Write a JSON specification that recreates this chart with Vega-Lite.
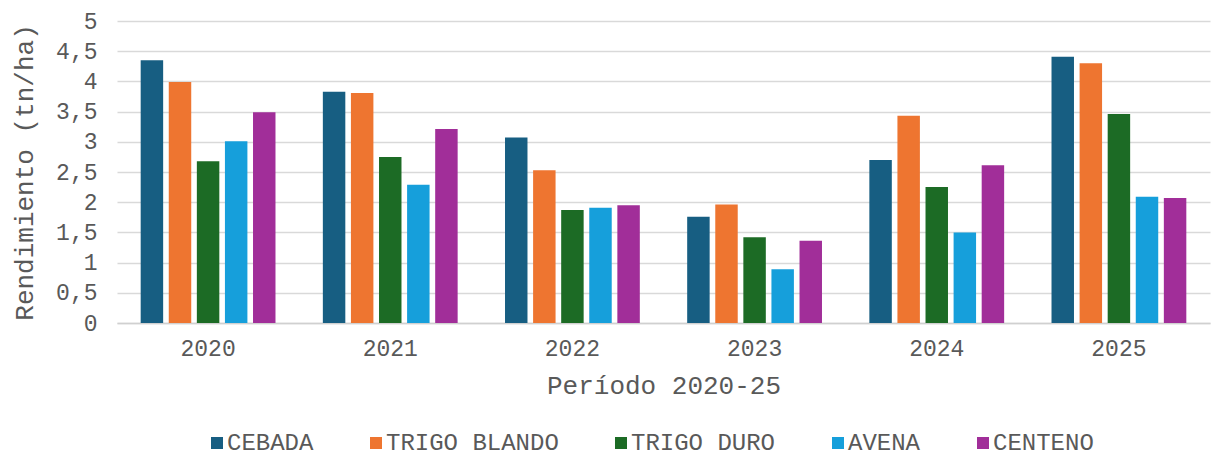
{
  "$schema": "https://vega.github.io/schema/vega-lite/v6.json",
  "width": 1093,
  "height": 302,
  "autosize": {"type": "none"},
  "padding": {"left": 117, "top": 21, "right": 3, "bottom": 133},
  "background": "white",
  "config": {
    "font": "Liberation Mono",
    "view": {"stroke": null},
    "axis": {"labelColor": "#595959", "titleColor": "#595959", "titleFontWeight": "normal"}
  },
  "data": {
    "values": [
      {"anio": "2020", "cultivo": "CEBADA", "valor": 4.35},
      {"anio": "2020", "cultivo": "TRIGO BLANDO", "valor": 3.99},
      {"anio": "2020", "cultivo": "TRIGO DURO", "valor": 2.68},
      {"anio": "2020", "cultivo": "AVENA", "valor": 3.01},
      {"anio": "2020", "cultivo": "CENTENO", "valor": 3.49},
      {"anio": "2021", "cultivo": "CEBADA", "valor": 3.83},
      {"anio": "2021", "cultivo": "TRIGO BLANDO", "valor": 3.81},
      {"anio": "2021", "cultivo": "TRIGO DURO", "valor": 2.75},
      {"anio": "2021", "cultivo": "AVENA", "valor": 2.29},
      {"anio": "2021", "cultivo": "CENTENO", "valor": 3.21},
      {"anio": "2022", "cultivo": "CEBADA", "valor": 3.07},
      {"anio": "2022", "cultivo": "TRIGO BLANDO", "valor": 2.53},
      {"anio": "2022", "cultivo": "TRIGO DURO", "valor": 1.87},
      {"anio": "2022", "cultivo": "AVENA", "valor": 1.91},
      {"anio": "2022", "cultivo": "CENTENO", "valor": 1.95},
      {"anio": "2023", "cultivo": "CEBADA", "valor": 1.76},
      {"anio": "2023", "cultivo": "TRIGO BLANDO", "valor": 1.96},
      {"anio": "2023", "cultivo": "TRIGO DURO", "valor": 1.42},
      {"anio": "2023", "cultivo": "AVENA", "valor": 0.89},
      {"anio": "2023", "cultivo": "CENTENO", "valor": 1.36},
      {"anio": "2024", "cultivo": "CEBADA", "valor": 2.70},
      {"anio": "2024", "cultivo": "TRIGO BLANDO", "valor": 3.43},
      {"anio": "2024", "cultivo": "TRIGO DURO", "valor": 2.25},
      {"anio": "2024", "cultivo": "AVENA", "valor": 1.50},
      {"anio": "2024", "cultivo": "CENTENO", "valor": 2.61},
      {"anio": "2025", "cultivo": "CEBADA", "valor": 4.41},
      {"anio": "2025", "cultivo": "TRIGO BLANDO", "valor": 4.30},
      {"anio": "2025", "cultivo": "TRIGO DURO", "valor": 3.46},
      {"anio": "2025", "cultivo": "AVENA", "valor": 2.09},
      {"anio": "2025", "cultivo": "CENTENO", "valor": 2.07}
    ]
  },
  "mark": {"type": "bar"},
  "encoding": {
    "x": {
      "field": "anio", "type": "nominal",
      "scale": {"paddingInner": 0.26, "paddingOuter": 0.13},
      "axis": {
        "title": "Período 2020-25", "titleFontSize": 26, "titlePadding": 12,
        "labelFontSize": 23, "labelAngle": 0, "labelPadding": 14,
        "ticks": false, "domain": true, "domainColor": "#d0d0d0", "domainWidth": 1.5, "grid": false
      }
    },
    "xOffset": {
      "field": "cultivo", "type": "nominal",
      "sort": ["CEBADA", "TRIGO BLANDO", "TRIGO DURO", "AVENA", "CENTENO"],
      "scale": {"paddingInner": 0.2}
    },
    "y": {
      "field": "valor", "type": "quantitative",
      "scale": {"domain": [0, 5]},
      "axis": {
        "title": "Rendimiento (tn/ha)", "titleFontSize": 26, "titlePadding": 18,
        "labelFontSize": 23, "labelPadding": 20,
        "values": [0, 0.5, 1, 1.5, 2, 2.5, 3, 3.5, 4, 4.5, 5],
        "labelExpr": "replace(toString(datum.value), '.', ',')",
        "ticks": false, "domain": false,
        "grid": true, "gridColor": "#d9d9d9", "gridWidth": 1.5
      }
    },
    "color": {
      "field": "cultivo", "type": "nominal",
      "sort": ["CEBADA", "TRIGO BLANDO", "TRIGO DURO", "AVENA", "CENTENO"],
      "scale": {
        "domain": ["CEBADA", "TRIGO BLANDO", "TRIGO DURO", "AVENA", "CENTENO"],
        "range": ["#175e82", "#ee7530", "#1c6b25", "#169fdb", "#a12e99"]
      },
      "legend": {
        "title": null, "orient": "none", "direction": "horizontal",
        "legendX": 88, "legendY": 410,
        "symbolType": "square", "symbolSize": 144, "symbolStrokeWidth": 0,
        "labelFontSize": 24, "labelColor": "#595959", "labelOffset": -2,
        "columnPadding": 50, "labelLimit": 400
      }
    }
  }
}
